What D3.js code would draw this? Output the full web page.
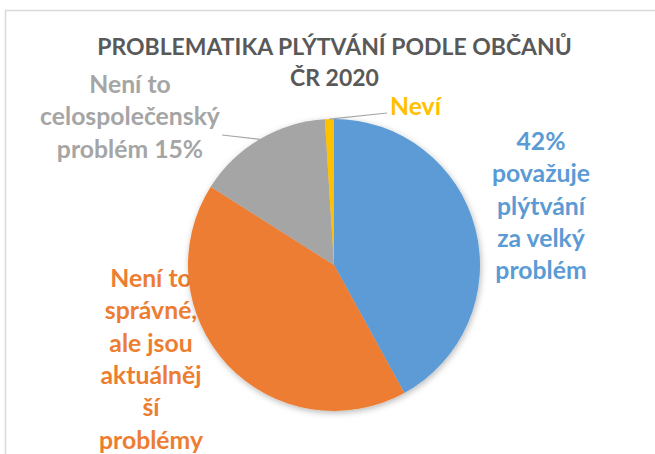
<!DOCTYPE html>
<html>
<head>
<meta charset="utf-8">
<script src="https://cdn.jsdelivr.net/npm/d3@7"></script>
<style>
  html, body { margin: 0; padding: 0; background: #fff; }
  svg { display: block; }
  text { font-family: Lato, "Open Sans", sans-serif; font-weight: bold; }
</style>
</head>
<body>
<svg id="chart" width="655" height="454"></svg>
<script>
// ---- data ----
const categories = ["Velký problém", "Není to správné, ale jsou aktuálnější problémy", "Není to celospolečenský problém", "Neví"];
const values = [42, 42, 15, 1];
const colors = ["#5B9BD5", "#ED7D31", "#A5A5A5", "#FFC000"];
const labelLines = [
  ["42%", "považuje", "plýtvání", "za velký", "problém"],
  ["Není to", "správné,", "ale jsou", "aktuálněj", "ší", "problémy"],
  ["Není to", "celospolečenský", "problém 15%"],
  ["Neví"]
];
const titleLines = ["PROBLEMATIKA PLÝTVÁNÍ PODLE OBČANŮ", "ČR 2020"];

// ---- layout ----
const W = 655, H = 454;
const cx = 334, cy = 265, R = 146;
const svg = d3.select("#chart");

const defs = svg.append("defs");
const f = defs.append("filter").attr("id", "shadow")
  .attr("x", "-20%").attr("y", "-20%").attr("width", "140%").attr("height", "140%");
f.append("feDropShadow").attr("dx", 1).attr("dy", 2).attr("stdDeviation", 3)
  .attr("flood-color", "#000").attr("flood-opacity", 0.28);

// chart border
svg.append("path")
  .attr("d", `M5.5,${H + 5} V10.5 H${W + 5}`)
  .attr("fill", "none").attr("stroke", "#d9d9d9").attr("stroke-width", 1.5);

// title
const title = svg.append("g");
const titleFont = 22;
const t1 = title.append("text").attr("x", 334.5).attr("y", 55)
  .attr("text-anchor", "middle").attr("fill", "#595959")
  .attr("font-size", titleFont).text(titleLines[0]);
const natW = t1.node().getComputedTextLength();
const tSize = titleFont * 475 / natW;
t1.attr("font-size", tSize);
title.append("text").attr("x", 334.5).attr("y", 86)
  .attr("text-anchor", "middle").attr("fill", "#595959")
  .attr("font-size", tSize).text(titleLines[1]);

// label font size fit
const probe = svg.append("text").attr("font-size", 22).text("celospolečenský");
const lSize = 22 * 180 / probe.node().getComputedTextLength();
probe.remove();

// labels (drawn beneath pie)
const labelPos = [
  {x: 541, y: 150, anchor: "middle"},
  {x: 151, y: 287, anchor: "middle"},
  {x: 130, y: 93, anchor: "middle"},
  {x: 390, y: 115, anchor: "start"}
];
const lineGap = 32.3;
const labels = svg.append("g");
labelLines.forEach((lines, i) => {
  const p = labelPos[i];
  const t = labels.append("text")
    .attr("text-anchor", p.anchor).attr("fill", colors[i])
    .attr("font-size", lSize);
  lines.forEach((ln, j) => {
    t.append("tspan").attr("x", p.x).attr("y", p.y + j * lineGap).text(ln);
  });
});

// pie
const pie = d3.pie().sort(null).value(d => d)(values);
const arc = d3.arc().innerRadius(0).outerRadius(R);
const g = svg.append("g").attr("transform", `translate(${cx},${cy})`);
g.append("g").attr("filter", "url(#shadow)")
  .selectAll("path").data(pie).join("path")
  .attr("d", arc).attr("fill", (d, i) => colors[i]);

// leader lines
function edgePoint(d) {
  const a = (d.startAngle + d.endAngle) / 2;
  return [cx + R * Math.sin(a), cy - R * Math.cos(a)];
}
const leaders = [
  {i: 2, to: [222, 135]},
  {i: 3, to: [387, 113]}
];
leaders.forEach(l => {
  const [x0, y0] = edgePoint(pie[l.i]);
  svg.append("path")
    .attr("d", `M${x0},${y0} L${l.to[0]},${l.to[1]}`)
    .attr("fill", "none").attr("stroke", "#A6A6A6").attr("stroke-width", 1.2);
});
</script>
</body>
</html>
